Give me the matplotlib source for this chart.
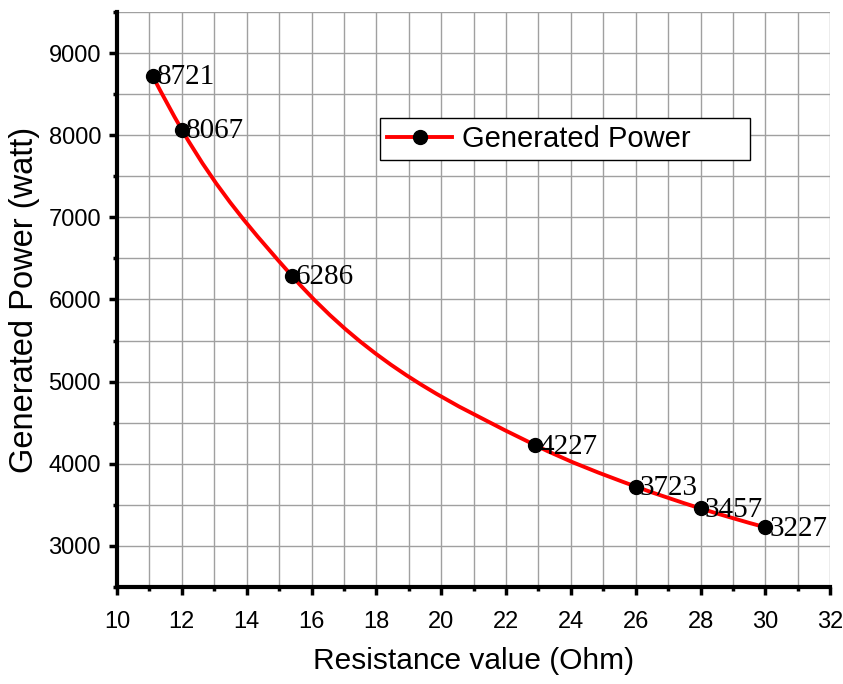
import numpy as np
import matplotlib
matplotlib.use("Agg")
import matplotlib.pyplot as plt
from matplotlib.path import Path
from matplotlib.patches import PathPatch
from matplotlib.lines import Line2D
from matplotlib.ticker import MultipleLocator

# data
resistance = [11.1, 12, 15.4, 22.9, 26, 28, 30]
power = [8721, 8067, 6286, 4227, 3723, 3457, 3227]
labels = ["8721", "8067", "6286", "4227", "3723", "3457", "3227"]
series_name = "Generated Power"

plt.rcParams['font.family'] = ['Liberation Sans', 'DejaVu Sans']

fig = plt.figure(figsize=(8.43, 6.84), dpi=100)
ax = fig.add_axes([0.1388, 0.1418, 0.846, 0.8407])

# smooth connecting line (cubic hermite segments drawn as bezier path)
x = np.array(resistance, dtype=float)
y = np.array(power, dtype=float)
h = np.diff(x)
d = np.diff(y) / h
m = np.zeros(len(x))
for i in range(1, len(x) - 1):
    m[i] = (h[i - 1] * d[i] + h[i] * d[i - 1]) / (h[i - 1] + h[i])
m[0] = ((2 * h[0] + h[1]) * d[0] - h[0] * d[1]) / (h[0] + h[1])
m[-1] = ((2 * h[-1] + h[-2]) * d[-1] - h[-1] * d[-2]) / (h[-1] + h[-2])

verts = [(x[0], y[0])]
codes = [Path.MOVETO]
for i in range(len(x) - 1):
    verts.append((x[i] + h[i] / 3, y[i] + m[i] * h[i] / 3))
    verts.append((x[i + 1] - h[i] / 3, y[i + 1] - m[i + 1] * h[i] / 3))
    verts.append((x[i + 1], y[i + 1]))
    codes += [Path.CURVE4, Path.CURVE4, Path.CURVE4]
curve = PathPatch(Path(verts, codes), facecolor='none', edgecolor='red', lw=2.8, zorder=3)
ax.add_patch(curve)

ax.plot(resistance, power, 'o', color='black', markersize=10, zorder=4)

for xi, yi, t in zip(resistance, power, labels):
    ax.annotate(t, (xi, yi), xytext=(3, -1), textcoords='offset points',
                ha='left', va='center', fontsize=21,
                family=['Liberation Serif', 'DejaVu Serif'], zorder=5)

ax.set_xlim(10, 32)
ax.set_ylim(2500, 9500)
ax.xaxis.set_major_locator(MultipleLocator(2))
ax.xaxis.set_minor_locator(MultipleLocator(1))
ax.yaxis.set_major_locator(MultipleLocator(1000))
ax.yaxis.set_minor_locator(MultipleLocator(500))
ax.set_yticks([3000, 4000, 5000, 6000, 7000, 8000, 9000])

ax.grid(True, which='both', color='#a0a0a0', lw=1.0, zorder=0)
ax.set_axisbelow(True)

ax.spines['top'].set_visible(False)
ax.spines['right'].set_visible(False)
ax.spines['left'].set_linewidth(3)
ax.spines['bottom'].set_linewidth(3)
ax.tick_params(which='major', direction='out', length=5.5, width=2.5, labelsize=17)
ax.tick_params(which='minor', direction='out', length=3, width=2.5)
ax.tick_params(axis='x', which='major', pad=12)
ax.tick_params(axis='y', which='major', pad=6)

ax.set_xlabel("Resistance value (Ohm)", fontsize=21.5, labelpad=10)
ax.set_ylabel("Generated Power (watt)", fontsize=23.5, labelpad=6)

handle = Line2D([], [], color='red', lw=2.8, marker='o', markersize=10,
                markerfacecolor='black', markeredgecolor='black')
leg = ax.legend([handle], [series_name], loc='upper left',
                bbox_to_anchor=(0.369, 0.743, 0.519, 0.073), mode='expand',
                borderaxespad=0, fontsize=21, frameon=True,
                fancybox=False, edgecolor='black', framealpha=1,
                handlelength=2.2, handletextpad=0.35, borderpad=0.25)
leg.get_frame().set_linewidth(1.0)

fig.savefig("out.png", dpi=100)
